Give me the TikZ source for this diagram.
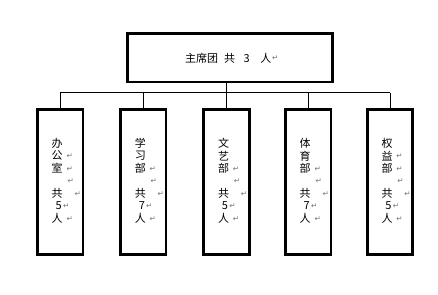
\documentclass[tikz,border=0pt]{standalone}
\usepackage{fontspec}
\setmainfont{Noto Sans CJK SC}
\newfontfamily\markfont{DejaVu Sans}
\begin{document}
\begin{tikzpicture}[x=1pt,y=-1pt,
  frame/.style={draw=black, line width=2.7pt, inner sep=0pt},
  deptbox/.style={frame, minimum width=45.5pt, minimum height=145pt},
  link/.style={draw=black, line width=0.9pt},
  ch/.style={inner sep=0pt, font=\fontsize{11}{12}\selectfont},
  pm/.style={inner sep=0pt, text=black!55, font=\markfont\fontsize{7.5}{8}\selectfont}]
\useasboundingbox (0,0) rectangle (438,294);
% top box
\node[frame, minimum width=205pt, minimum height=48.3pt] (top) at (230.2,57.85) {};
\node[ch, anchor=west] (toptext) at (185,58) {主席团\hspace{6pt}共\hspace{8.5pt}3\hspace{10.5pt}人};
\node[pm, anchor=west] (topmark) at ([xshift=0.5pt]toptext.east) {↵};
% department boxes
\foreach \i/\cx in {1/60.2,2/143.3,3/226.5,4/308.2,5/390}{
  \node[deptbox] (b\i) at (\cx,182.2) {};
}
% connectors
\coordinate (bar) at (0,92.7);
\draw[link] (top.south -| b3.north) -- (b3.north |- bar);
\draw[link] (b1.north |- bar) -- (b5.north |- bar);
\foreach \i in {1,...,5}{
  \draw[link] (b\i.north |- bar) -- (b\i.north);
}
% vertical texts
\foreach \i/\cx/\a/\b/\c/\n/\mb in {1/60.2/办/公/室/5/1, 2/143.3/学/习/部/7/0, 3/226.5/文/艺/部/5/0, 4/308.2/体/育/部/7/0, 5/390/权/益/部/5/1}{
  \node[ch] (t\i a) at (\cx-3,143.3) {\a};
  \node[ch] (t\i b) at (\cx-3,155.8) {\b};
  \ifnum\mb=1 \node[pm] (m\i b) at (\cx+9.5,156.5) {↵};\fi
  \node[ch] (t\i c) at (\cx-3,168.3) {\c};
  \node[pm] (m\i c) at (\cx+9.5,169) {↵};
  \node[pm] (m\i d) at (\cx+10.5,181.5) {↵};
  \node[ch] (t\i e) at (\cx-3,193.3) {共};
  \node[pm] (m\i e) at (\cx+17.5,193.8) {↵};
  \node[ch] (t\i f) at (\cx-1.5,205.8) {\n};
  \node[pm] (m\i f) at (\cx+6,206.5) {↵};
  \node[ch] (t\i g) at (\cx-3,218.3) {人};
  \node[pm] (m\i g) at (\cx+9.5,219) {↵};
}
\end{tikzpicture}
\end{document}
